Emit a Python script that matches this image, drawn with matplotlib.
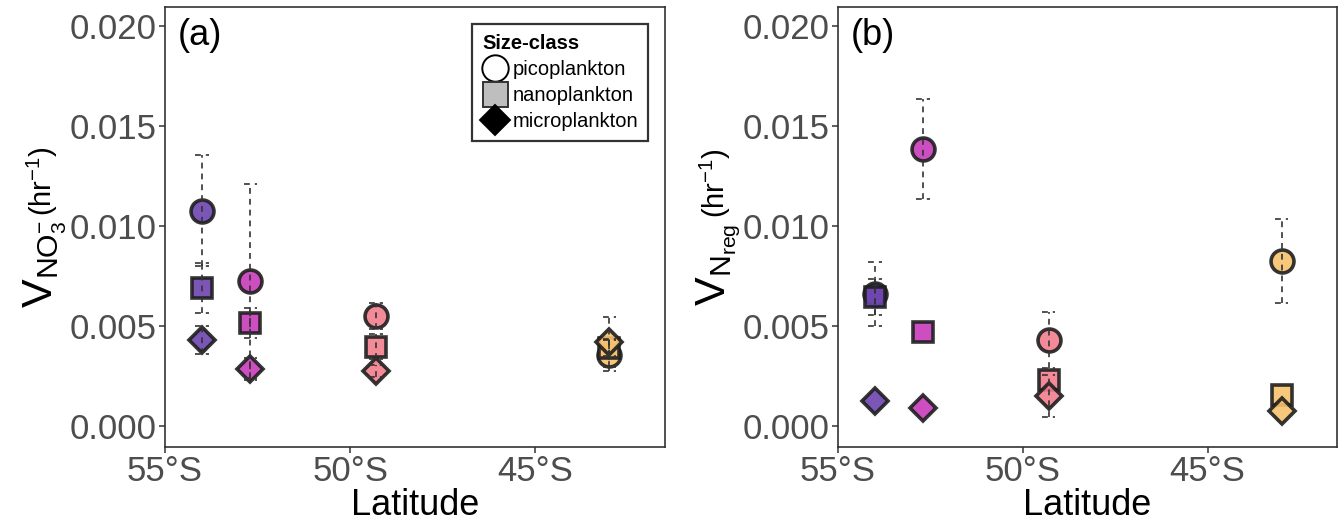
import matplotlib
matplotlib.use("Agg")
import matplotlib.pyplot as plt
from matplotlib.lines import Line2D
import numpy as np

plt.rcParams['font.family'] = ['Liberation Sans', 'DejaVu Sans']
plt.rcParams['mathtext.fontset'] = 'custom'
plt.rcParams['mathtext.rm'] = 'Liberation Sans'
plt.rcParams['mathtext.it'] = 'Liberation Sans:italic'
plt.rcParams['mathtext.bf'] = 'Liberation Sans:bold'

# ---------------- data ----------------
latitudes = [-54.0, -52.7, -49.3, -43.0]
station_colors = ["#6E44B0", "#C83BBB", "#F27D8C", "#F7C16E"]
size_classes = ["picoplankton", "nanoplankton", "microplankton"]
markers = ["o", "s", "D"]

# panel (a): V_NO3
a_pico = [0.01077, 0.00725, 0.00552, 0.00355]
a_pico_err = [0.00278, 0.00483, 0.00065, 0.00080]
a_nano = [0.00690, 0.00513, 0.00397, 0.00390]
a_nano_err = [0.00125, 0.00075, 0.00062, 0.00040]
a_micro = [0.00430, 0.00285, 0.00275, 0.00418]
a_micro_err = [0.00072, 0.00055, 0.00030, 0.00125]

# panel (b): V_Nreg
b_pico = [0.00660, 0.01385, 0.00428, 0.00827]
b_pico_err = [0.00160, 0.00248, 0.00140, 0.00210]
b_nano = [0.00645, 0.00468, 0.00230, 0.00155]
b_nano_err = [0.00090, 0.00000, 0.00000, 0.00000]
b_micro = [0.00125, 0.00088, 0.00150, 0.00077]
b_micro_err = [0.00000, 0.00000, 0.00103, 0.00000]

xticks = [-55, -50, -45]
xticklabels = ["55°S", "50°S", "45°S"]
yticks = [0.000, 0.005, 0.010, 0.015, 0.020]
yticklabels = ["0.000", "0.005", "0.010", "0.015", "0.020"]

# ---------------- figure ----------------
W, H = 1338, 529
fig = plt.figure(figsize=(W / 100, H / 100), dpi=100)
ax_a = fig.add_axes([165/W, 82/H, 500/W, 440/H])
ax_b = fig.add_axes([838/W, 82/H, 499/W, 440/H])

msizes = {"o": 16.5, "s": 15, "D": 13.5}
edge = "#1E1E1E"
errc = "#333333"
cap_half = 0.18


def draw_panel(ax, series, label):
    for vals, errs, mk in series:
        for lat, v, e, c in zip(latitudes, vals, errs, station_colors):
            ax.plot(lat, v, marker=mk, ms=msizes[mk], mfc=c, mec=edge,
                    mew=2.6, alpha=0.9, linestyle='none', zorder=3)
            if e > 0:
                ax.vlines(lat, v - e, v + e, colors=errc, linestyles=(0, (3.5, 3)),
                          lw=1.2, zorder=4)
                ax.hlines([v - e, v + e], lat - cap_half, lat + cap_half,
                          colors=errc, linestyles=(0, (3.5, 3)), lw=1.2, zorder=4)
    ax.set_xlim(-55.0, -41.5)
    ax.set_ylim(-0.00105, 0.02095)
    ax.set_xticks(xticks)
    ax.set_xticklabels(xticklabels)
    ax.set_yticks(yticks)
    ax.set_yticklabels(yticklabels)
    ax.tick_params(axis='both', labelsize=25, labelcolor="#4D4D4D",
                   color="#333333", length=4, width=1.1, pad=2)
    for s in ax.spines.values():
        s.set_color("#333333")
        s.set_linewidth(1.2)
    ax.set_xlabel("Latitude", fontsize=26, color="black", labelpad=0)
    ax.text(0.025, 0.975, label, transform=ax.transAxes, fontsize=26,
            ha='left', va='top')


draw_panel(ax_a, [(a_pico, a_pico_err, "o"), (a_nano, a_nano_err, "s"),
                  (a_micro, a_micro_err, "D")], "(a)")
draw_panel(ax_b, [(b_pico, b_pico_err, "o"), (b_nano, b_nano_err, "s"),
                  (b_micro, b_micro_err, "D")], "(b)")

renderer = fig.canvas.get_renderer()


def ylabel_two_part(ax_left_px, main, unit, center_y_px):
    xb = (ax_left_px - 113) / W
    t1 = fig.text(xb, 0.5, main, fontsize=31, rotation=90, rotation_mode='anchor',
                  ha='left', va='baseline', color='black')
    t2 = fig.text(xb, 0.5, unit, fontsize=21, rotation=90, rotation_mode='anchor',
                  ha='left', va='baseline', color='black')
    e1 = t1.get_window_extent(renderer)
    e2 = t2.get_window_extent(renderer)
    gap = 5
    total = e1.height + gap + e2.height
    start = center_y_px - total / 2
    t1.set_y(start / H)
    t2.set_y((start + e1.height + gap) / H)


center_px = 82 + 220
ylabel_two_part(165, r"$\mathregular{V_{NO_3^{-}}}$", r"(hr$^{\mathregular{-1}}$)", center_px)
ylabel_two_part(838, r"$\mathregular{V_{N_{reg}}}$", r"(hr$^{\mathregular{-1}}$)", center_px)

handles = [
    Line2D([], [], marker="o", ms=19, mfc="white", mec="black", mew=1.4, ls='none'),
    Line2D([], [], marker="s", ms=18, mfc="#BEBEBE", mec="#333333", mew=1.4, ls='none'),
    Line2D([], [], marker="D", ms=15, mfc="black", mec="black", mew=1.4, ls='none'),
]
leg = ax_a.legend(handles, size_classes, title="Size-class", loc='upper right',
                  bbox_to_anchor=(0.987, 0.985), fontsize=14.5,
                  title_fontproperties={'weight': 'bold', 'size': 14.5},
                  frameon=True, fancybox=False, edgecolor="black",
                  handlelength=1.2, handletextpad=0.3, labelspacing=0.35,
                  borderpad=0.5)
leg._legend_box.align = "left"
leg.get_frame().set_linewidth(1.6)

fig.savefig("out.png", dpi=100)
